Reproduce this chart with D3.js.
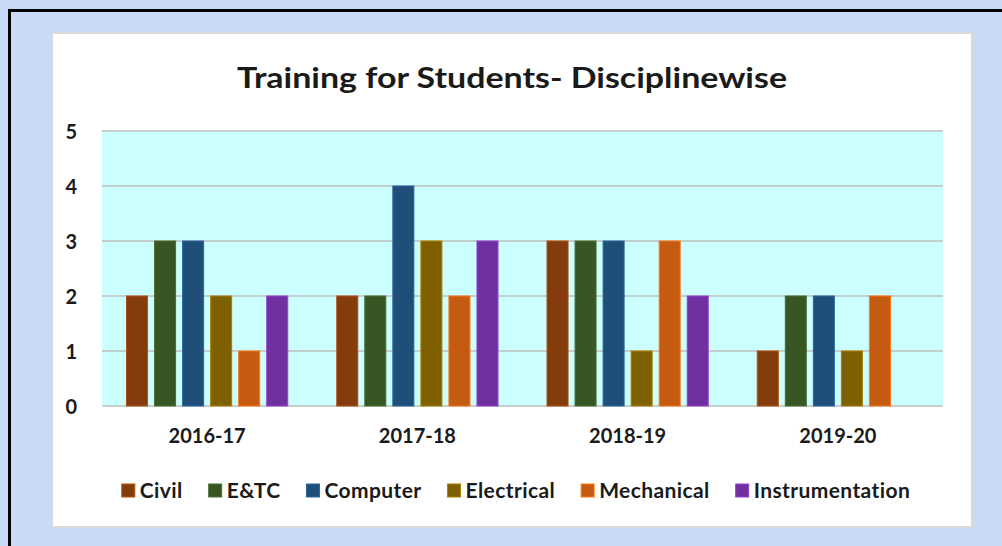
<!DOCTYPE html>
<html>
<head>
<meta charset="utf-8">
<script src="https://cdn.jsdelivr.net/npm/d3@7"></script>
<style>
  html, body { margin: 0; padding: 0; background: #c9daf8; }
  svg { display: block; }
  text { font-family: Lato, "Open Sans", sans-serif; font-weight: bold; fill: #1a1a1a; }
</style>
</head>
<body>
<div class="chart"></div>
<script>
const title = "Training for Students- Disciplinewise";
const years = ["2016-17", "2017-18", "2018-19", "2019-20"];
const disciplines = ["Civil", "E&TC", "Computer", "Electrical", "Mechanical", "Instrumentation"];
const colors = ["#843c0c", "#375623", "#1f4e79", "#7f6000", "#c55a11", "#7030a0"];
// values per discipline, in year order
const civil = [2, 2, 3, 1];
const eandtc = [3, 2, 3, 2];
const computer = [3, 4, 3, 2];
const electrical = [2, 3, 1, 1];
const mechanical = [1, 2, 3, 2];
const instrumentation = [2, 3, 2, 0];
const yTicks = [0, 1, 2, 3, 4, 5];

const series = [civil, eandtc, computer, electrical, mechanical, instrumentation];

const W = 1002, H = 546;
const svg = d3.select(".chart").append("svg")
    .attr("width", W).attr("height", H);

// outer frame
svg.append("rect")
    .attr("x", 9.5).attr("y", 10.5)
    .attr("width", 1010).attr("height", 560)
    .attr("fill", "#c9daf8")
    .attr("stroke", "#000").attr("stroke-width", 3);

// white chart box
svg.append("rect")
    .attr("x", 52).attr("y", 33)
    .attr("width", 920).attr("height", 494)
    .attr("fill", "#fff")
    .attr("stroke", "#d9d9d9").attr("stroke-width", 2);

svg.append("text")
    .attr("x", 512).attr("y", 88)
    .attr("text-anchor", "middle")
    .attr("font-size", 29)
    .attr("textLength", 550)
    .attr("lengthAdjust", "spacingAndGlyphs")
    .text(title);

let margin = { top: 131, left: 102, right: 59, bottom: 140 };
const width = W - margin.left - margin.right;
const height = H - margin.top - margin.bottom;
let g = svg.append("g")
    .attr("transform", "translate(" + margin.left + "," + margin.top + ")");

var x0 = d3.scaleBand().domain(years).range([0, width]).paddingInner(0).paddingOuter(0);
var x1 = d3.scaleBand().domain(disciplines).range([24, x0.bandwidth() - 24]).paddingInner(0.2143).paddingOuter(0);
var y = d3.scaleLinear().domain([0, 5]).range([height, 0]);

g.append("rect")
    .attr("width", width).attr("height", height)
    .attr("fill", "#ccffff");

g.selectAll(".grid")
    .data(yTicks)
    .enter()
    .append("line")
    .attr("class", "grid")
    .attr("x1", 0).attr("x2", width)
    .attr("y1", d => y(d)).attr("y2", d => y(d))
    .attr("stroke", "#bfbfbf").attr("stroke-width", 1.5);

years.forEach(function (yr, j) {
    let grp = g.append("g").attr("transform", "translate(" + x0(yr) + ",0)");
    disciplines.forEach(function (dn, i) {
        let v = series[i][j];
        if (v <= 0) return;
        grp.append("rect")
            .attr("x", x1(dn) + 0.5)
            .attr("y", y(v))
            .attr("width", x1.bandwidth() - 1)
            .attr("height", y(0) - y(v))
            .attr("fill", colors[i])
            .attr("stroke", d3.color(colors[i]).brighter(0.8))
            .attr("stroke-width", 1);
    });
});

let yAxis = g.append("g")
    .attr("transform", "translate(-22,0)")
    .call(d3.axisLeft(y).tickValues(yTicks).tickSize(0).tickFormat(d3.format("d")));
yAxis.select(".domain").remove();
yAxis.selectAll("text").attr("font-size", 20).attr("font-family", null).attr("fill", "#1a1a1a").attr("dy", "0.35em");

let xAxis = g.append("g")
    .attr("transform", "translate(0," + (height + 20) + ")")
    .call(d3.axisBottom(x0).tickSize(0));
xAxis.select(".domain").remove();
xAxis.selectAll("text").attr("font-size", 20).attr("font-family", null).attr("fill", "#1a1a1a");

// legend
let legend = svg.append("g").attr("transform", "translate(0,491)");
let items = legend.selectAll(".item")
    .data(disciplines)
    .enter()
    .append("g")
    .attr("class", "item");
items.append("rect")
    .attr("width", 13).attr("height", 13)
    .attr("y", -7)
    .attr("fill", (d, i) => colors[i])
    .attr("stroke", (d, i) => d3.color(colors[i]).brighter(0.8));
items.append("text")
    .attr("x", 18)
    .attr("dy", "0.35em")
    .attr("font-size", 21)
    .attr("letter-spacing", "0.4")
    .text(d => d);

let gap = 26, pos = 0, xs = [];
items.each(function () {
    xs.push(pos);
    pos += this.getBBox().width + gap;
});
let total = pos - gap;
let startX = 516 - total / 2;
items.attr("transform", (d, i) => "translate(" + (startX + xs[i]) + ",0)");
</script>
</body>
</html>
